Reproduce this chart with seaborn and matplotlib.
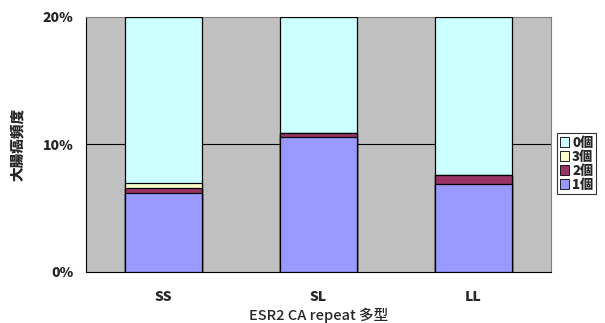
import matplotlib
matplotlib.use("Agg")
import matplotlib.pyplot as plt
import seaborn as sns
import pandas as pd
import numpy as np
from matplotlib.patches import Patch

categories = ["SS", "SL", "LL"]
val_1 = [6.17, 10.54, 6.92]   # 1個
val_2 = [0.39, 0.35, 0.63]    # 2個
val_3 = [0.39, 0.00, 0.00]    # 3個
val_0 = [13.05, 9.11, 12.45]  # 0個
series_names = ["1個", "2個", "3個", "0個"]
series_vals = [val_1, val_2, val_3, val_0]
colors = ["#9999FF", "#993366", "#FFFFCC", "#CCFFFF"]
yticks = [0, 10, 20]
ytick_labels = ["0%", "10%", "20%"]

sns.set_theme(style="white")
plt.rcParams["font.family"] = ["Noto Sans CJK JP", "DejaVu Sans"]

fig = plt.figure(figsize=(6.05, 3.23), dpi=100)
ax = fig.add_axes([86/605, 1-271.6/323, (551-86)/605, (271.6-17)/323])
ax.set_facecolor("#C0C0C0")

cum = np.cumsum(np.array(series_vals), axis=0)
for i in range(len(series_names) - 1, -1, -1):
    df = pd.DataFrame({"cat": categories, "v": cum[i]})
    sns.barplot(data=df, x="cat", y="v", color=colors[i], saturation=1,
                width=0.5, edgecolor="#000000", linewidth=0.9, ax=ax, zorder=3)

ax.axhline(10, color="black", linewidth=0.8, zorder=1)
ax.set_ylim(0, 20)
ax.set_xlim(-0.5, 2.5)
ax.set_yticks(yticks)
ax.set_yticklabels(ytick_labels, fontsize=10, fontweight="heavy")
ax.tick_params(axis="x", labelsize=10, pad=13, length=0)
for t in ax.get_xticklabels():
    t.set_fontweight("heavy")
ax.tick_params(axis="y", length=0, pad=9)
ax.set_xlabel("ESR2 CA repeat 多型", fontsize=10.5, fontweight="medium", labelpad=3)
ax.set_ylabel("大腸癌頻度", fontsize=10.5, fontweight="heavy", labelpad=13)
for s in ["top", "right"]:
    ax.spines[s].set_color("#808080")
    ax.spines[s].set_linewidth(0.8)
for s in ["left", "bottom"]:
    ax.spines[s].set_color("#000000")
    ax.spines[s].set_linewidth(0.8)

handles = [Patch(facecolor=colors[i], edgecolor="black", linewidth=0.6, label=series_names[i])
           for i in [3, 2, 1, 0]]
leg = fig.legend(handles=handles, loc="upper left", bbox_to_anchor=(557/605, 1-133/323),
                 frameon=True, fancybox=False, edgecolor="black", fontsize=9.5,
                 handlelength=0.7, handleheight=0.7, handletextpad=0.25,
                 labelspacing=0.0, borderpad=0.2, borderaxespad=0)
leg.get_frame().set_linewidth(0.8)
for t in leg.get_texts():
    t.set_fontweight("heavy")

fig.savefig("out.png", dpi=100, facecolor="white")
